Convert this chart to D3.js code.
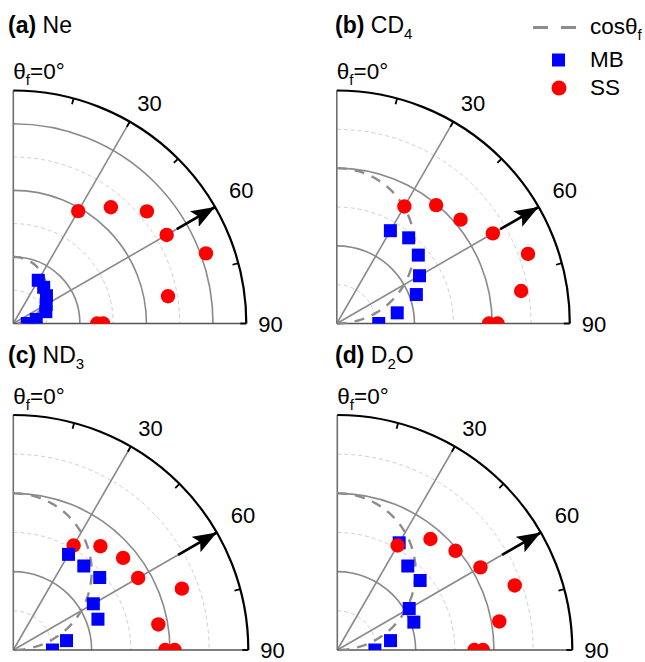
<!DOCTYPE html>
<html><head><meta charset="utf-8">
<script src="https://cdn.jsdelivr.net/npm/d3@7"></script>
<style>body{margin:0;background:#fff} text{font-family:"Liberation Sans",Arial,sans-serif;fill:#000}</style>
</head><body><svg id="chart" width="645" height="662"></svg>
<script>
// ---------- data ----------
const panelLetters = ["(a)", "(b)", "(c)", "(d)"];
// molecule name segments: [text, isSubscript]
const moleculeNames = [
  [["Ne", 0]],
  [["CD", 0], ["4", 1]],
  [["ND", 0], ["3", 1]],
  [["D", 0], ["2", 1], ["O", 0]]
];
const radialMax = [3.5, 3, 3, 3];
const cosAmplitude = [1, 2, 2, 2];
const angleTickLabels = [30, 60, 90];
const mbAngles = [30, 40, 50, 60, 70, 80, 90];
const ssAngles = [30, 40, 50, 60, 70, 80, 90, 90];
const mbNe  = [0.75, 0.71, 0.65, 0.57, 0.52, 0.35, 0.21];
const ssNe  = [1.95, 2.28, 2.62, 2.66, 3.08, 2.36, 1.26, 1.35];
const mbCD4 = [1.38, 1.44, 1.37, 1.23, 1.09, 0.79, 0.54];
const ssCD4 = [1.74, 1.99, 2.08, 2.32, 2.62, 2.41, 1.96, 2.07];
const mbND3 = [1.41, 1.40, 1.44, 1.18, 1.15, 0.69, 0.50];
const ssND3 = [1.54, 1.73, 1.83, 1.84, 2.29, 1.88, 1.94, 2.06];
const mbD2O = [1.58, 1.40, 1.38, 1.06, 1.04, 0.69, 0.48];
const ssD2O = [1.54, 1.85, 1.97, 2.11, 2.41, 2.10, 1.75, 1.86];
const mbSeries = [mbNe, mbCD4, mbND3, mbD2O];
const ssSeries = [ssNe, ssCD4, ssND3, ssD2O];
const legendLabels = ["cos", "MB", "SS"];

// ---------- layout ----------
const origins = [[13.3, 323.5], [336.8, 323.5], [13.3, 650], [337.3, 650]];
const outerR = [233, 233, 235, 235];
const titlePos = [[8, 33], [335, 33], [8, 363], [335, 363]];
const RED = "#ff0000", BLUE = "#0000ff", GRID = "#8a8a8a", LIGHT = "#cfcfcf";

const svg = d3.select("#chart");
const defs = svg.append("defs");
defs.append("marker").attr("id", "arrowhead").attr("viewBox", "0 0 10 10")
  .attr("preserveAspectRatio", "none")
  .attr("refX", 10).attr("refY", 5).attr("markerWidth", 24).attr("markerHeight", 18)
  .attr("markerUnits", "userSpaceOnUse").attr("orient", "auto")
  .append("path").attr("d", "M0,0 L10,5 L0,10 L2,5 Z").attr("fill", "#000");

panelLetters.forEach((letter, i) => {
  const [ox, oy] = origins[i];
  const R = outerR[i];
  const r = d3.scaleLinear().domain([0, radialMax[i]]).range([0, R]);
  const a = d3.scaleLinear().domain([0, 90]).range([0, Math.PI / 2]);
  const px = (t, v) => r(v) * Math.sin(a(t));
  const py = (t, v) => -r(v) * Math.cos(a(t));
  const g = svg.append("g").attr("transform", `translate(${ox},${oy})`);

  const clipId = "clip" + i;
  defs.append("clipPath").attr("id", clipId).append("rect")
    .attr("x", 0).attr("y", -R - 20).attr("width", R + 20).attr("height", R + 20);

  const arcPath = rv => { const p = d3.path(); p.arc(0, 0, rv, -Math.PI / 2, 0, false); return p.toString(); };

  // dashed (half) rings
  const halfRings = d3.range(0.5, radialMax[i], 1);
  g.selectAll(".half").data(halfRings).join("path")
    .attr("d", v => arcPath(r(v))).attr("fill", "none")
    .attr("stroke", LIGHT).attr("stroke-width", 1).attr("stroke-dasharray", "4,3");
  // solid rings
  const fullRings = d3.range(1, radialMax[i], 1).filter(v => v < radialMax[i]);
  g.selectAll(".full").data(fullRings).join("path")
    .attr("d", v => arcPath(r(v))).attr("fill", "none")
    .attr("stroke", GRID).attr("stroke-width", 1.6);
  // spokes
  g.selectAll(".spoke").data([30, 60]).join("line")
    .attr("x1", 0).attr("y1", 0)
    .attr("x2", t => px(t, radialMax[i])).attr("y2", t => py(t, radialMax[i]))
    .attr("stroke", GRID).attr("stroke-width", 1.6);
  // axes
  g.append("line").attr("x1", 0).attr("y1", 0).attr("x2", 0).attr("y2", -R)
    .attr("stroke", "#6f6f6f").attr("stroke-width", 1.6);
  g.append("line").attr("x1", 0).attr("y1", 0).attr("x2", R).attr("y2", 0)
    .attr("stroke", "#555").attr("stroke-width", 1.6);

  // cos curve
  const cosPts = d3.range(0, 90.5, 1).map(t => [a(t), r(cosAmplitude[i] * Math.cos(a(t)))]);
  g.append("path").attr("d", d3.lineRadial()(cosPts)).attr("fill", "none")
    .attr("stroke", "#8c8c8c").attr("stroke-width", 2.4).attr("stroke-dasharray", "10,8");

  const marks = g.append("g").attr("clip-path", `url(#${clipId})`);
  const mb = mbAngles.map((t, k) => ({ t, v: mbSeries[i][k] }));
  const ss = ssAngles.map((t, k) => ({ t, v: ssSeries[i][k] }));
  const sq = 13;
  const drawMB = () => marks.append("g").selectAll("rect").data(mb).join("rect")
      .attr("x", d => px(d.t, d.v) - sq / 2).attr("y", d => py(d.t, d.v) - sq / 2)
      .attr("width", sq).attr("height", sq).attr("fill", BLUE);
  const drawSS = () => marks.append("g").selectAll("circle").data(ss).join("circle")
      .attr("cx", d => px(d.t, d.v)).attr("cy", d => py(d.t, d.v)).attr("r", 7.2).attr("fill", RED);
  if (i === 3) { drawMB(); drawSS(); } else { drawSS(); drawMB(); }

  // arrow along 60°
  g.append("line")
    .attr("x1", R * 0.81 * Math.sin(a(60))).attr("y1", -R * 0.81 * Math.cos(a(60)))
    .attr("x2", R * Math.sin(a(60))).attr("y2", -R * Math.cos(a(60)))
    .attr("stroke", "#000").attr("stroke-width", 2.6).attr("marker-end", "url(#arrowhead)");

  // outer arc and ticks
  g.append("path").attr("d", arcPath(R)).attr("fill", "none").attr("stroke", "#000").attr("stroke-width", 2.2);
  g.selectAll(".tick").data([15, 30, 45, 60, 75, 90]).join("line")
    .attr("x1", t => R * Math.sin(a(t))).attr("y1", t => -R * Math.cos(a(t)))
    .attr("x2", t => (R - 6) * Math.sin(a(t))).attr("y2", t => -(R - 6) * Math.cos(a(t)))
    .attr("stroke", "#000").attr("stroke-width", 1.8);

  // angle labels
  const labelOff = { 30: [15, 2], 60: [16, -1.5], 90: [12, 8] };
  g.selectAll(".alab").data(angleTickLabels).join("text")
    .attr("x", t => (R + labelOff[t][0]) * Math.sin(a(t)))
    .attr("y", t => -(R + labelOff[t][0]) * Math.cos(a(t)) + labelOff[t][1])
    .attr("font-size", 22).text(t => t);

  // θf=0° label
  const tl = g.append("text").attr("x", 0).attr("y", -R - 11.5).attr("font-size", 22.5);
  tl.append("tspan").text("θ");
  tl.append("tspan").attr("font-size", 15).attr("dy", 6).text("f");
  tl.append("tspan").attr("dy", -6).text("=0°");

  // panel title
  const tt = svg.append("text").attr("x", titlePos[i][0]).attr("y", titlePos[i][1]).attr("font-size", 23);
  tt.append("tspan").attr("font-weight", "bold").text(letter);
  tt.append("tspan").text("\u00a0");
  let shifted = false;
  moleculeNames[i].forEach(([s, sub]) => {
    const ts = tt.append("tspan").text(s);
    if (sub && !shifted) { ts.attr("font-size", 15).attr("dy", 6); shifted = true; }
    else if (!sub && shifted) { ts.attr("dy", -6); shifted = false; }
  });
});

// legend
const lg = svg.append("g");
lg.append("line").attr("x1", 533).attr("x2", 576).attr("y1", 27.5).attr("y2", 27.5)
  .attr("stroke", "#8c8c8c").attr("stroke-width", 3).attr("stroke-dasharray", "15,13");
const lt = lg.append("text").attr("x", 590).attr("y", 34).attr("font-size", 22.5);
lt.append("tspan").text(legendLabels[0] + "θ");
lt.append("tspan").attr("font-size", 15).attr("dy", 6).text("f");
lg.append("rect").attr("x", 552).attr("y", 53.5).attr("width", 13).attr("height", 13).attr("fill", BLUE);
lg.append("text").attr("x", 590).attr("y", 67).attr("font-size", 22.5).text(legendLabels[1]);
lg.append("circle").attr("cx", 559).attr("cy", 88).attr("r", 7.5).attr("fill", RED);
lg.append("text").attr("x", 590).attr("y", 94.5).attr("font-size", 22.5).text(legendLabels[2]);
</script></body></html>
